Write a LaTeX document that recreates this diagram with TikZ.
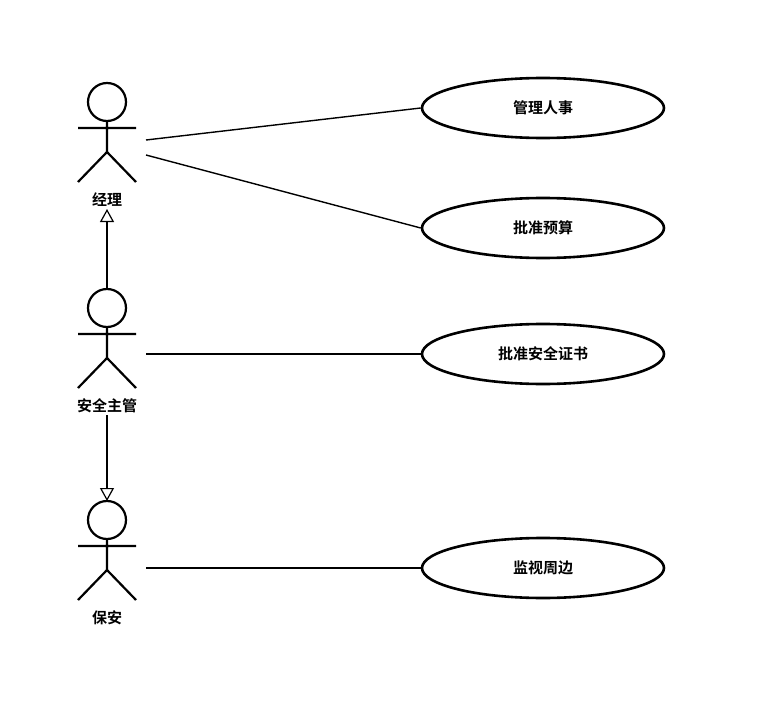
\documentclass[tikz,border=0pt]{standalone}
\usepackage{fontspec}
\newfontfamily\cjk{Noto Sans CJK SC Bold}
\usetikzlibrary{arrows.meta, positioning, shapes.geometric}

\begin{document}
\begin{tikzpicture}[x=1pt,y=-1pt,line width=2.2pt,font=\cjk\fontsize{15}{17}\selectfont]
  \tikzstyle{usecase}=[draw,ellipse,minimum width=242pt,minimum height=60pt,line width=2.6pt]
  \tikzstyle{actorname}=[inner sep=1pt]
  \tikzstyle{link}=[line width=1.4pt]
  \tikzstyle{isa}=[link,-{Triangle[open,length=13pt,width=14pt,line width=1.2pt]}]

  \useasboundingbox (0,0) rectangle (764,701);

  % actors
  \foreach \name/\y/\txt in {mgr/102/经理, chief/308/安全主管, guard/520/保安} {
    \draw (107,\y) circle (19);
    \draw (107,\y+19) -- (107,\y+50)
          (78,\y+26) -- (136,\y+26)
          (78,\y+80) -- (107,\y+50) -- (136,\y+80);
    \node[actorname] (\name) at (107,\y+98) {\txt};
    \coordinate (\name-head) at (107,\y-19);
  }
  \coordinate (mgr-r1) at (146,140);
  \coordinate (mgr-r2) at (146,155);
  \coordinate (chief-r) at (146,354);
  \coordinate (guard-r) at (146,568);

  % use cases
  \node[usecase] (staff)  at (543,108) {管理人事};
  \node[usecase] (budget) at (543,228) {批准预算};
  \node[usecase] (cert)   at (543,354) {批准安全证书};
  \node[usecase] (watch)  at (543,568) {监视周边};

  \draw[link] (mgr-r1) -- (staff.west);
  \draw[link] (mgr-r2) -- (budget.west);
  \draw[link] (chief-r) -- (cert.west);
  \draw[link] (guard-r) -- (watch.west);

  % generalization
  \draw[isa] (chief-head) -- (mgr.south);
  \draw[isa] (chief.south) -- (guard-head);
\end{tikzpicture}
\end{document}
